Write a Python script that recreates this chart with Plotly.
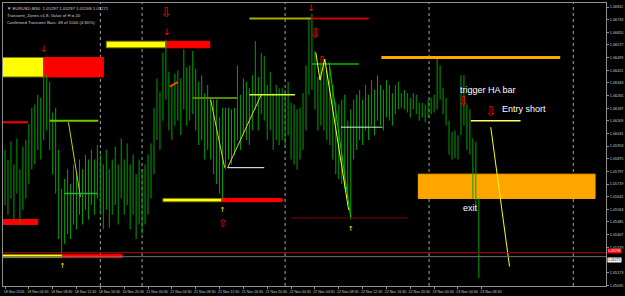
import plotly.graph_objects as go

# ---------------- data ----------------
time_labels = ["18 Nov 2016", "18 Nov 04:30", "18 Nov 08:30", "18 Nov 12:30", "18 Nov 16:30",
               "20 Nov 20:30", "21 Nov 00:30", "21 Nov 04:30", "21 Nov 08:30", "21 Nov 12:30",
               "21 Nov 16:30", "21 Nov 20:30", "22 Nov 00:30", "22 Nov 04:30", "22 Nov 08:30",
               "22 Nov 12:30", "22 Nov 16:30", "22 Nov 20:30", "23 Nov 00:30", "23 Nov 04:30",
               "23 Nov 08:30"]
label_bars = [0, 8, 16, 24, 32, 40, 48, 56, 64, 72, 80, 88, 96, 104, 112, 120, 128, 136, 144, 152, 160]

price_ticks = [1.06811, 1.06733, 1.06655, 1.06577, 1.06499, 1.06421, 1.06343, 1.06265, 1.06187,
               1.06109, 1.06031, 1.05953, 1.05875, 1.05797, 1.05719, 1.05641, 1.05563, 1.05485,
               1.05407, 1.05329, 1.05173, 1.05095]

highs = [1.0593, 1.0587, 1.0598, 1.0584, 1.0600, 1.0581, 1.0595, 1.0599, 1.0609, 1.0619,
         1.0621, 1.0627, 1.0625, 1.0639, 1.0639, 1.0635, 1.0616, 1.0619, 1.0593, 1.0569,
         1.0575, 1.0581, 1.0572, 1.0584, 1.0578, 1.0587, 1.0581, 1.0590, 1.0587, 1.0593,
         1.0587, 1.0596, 1.0590, 1.0584, 1.0593, 1.0581, 1.0587, 1.0595, 1.0584, 1.0600,
         1.0587, 1.0597, 1.0584, 1.0590, 1.0578, 1.0587, 1.0581, 1.0584, 1.0590, 1.0597,
         1.0619, 1.0637, 1.0629, 1.0653, 1.0661, 1.0641, 1.0633, 1.0640, 1.0642, 1.0637,
         1.0655, 1.0644, 1.0645, 1.0654, 1.0643, 1.0635, 1.0639, 1.0628, 1.0633, 1.0625,
         1.0624, 1.0624, 1.0613, 1.0619, 1.0619, 1.0619, 1.0618, 1.0619, 1.0645, 1.0627,
         1.0637, 1.0635, 1.0631, 1.0639, 1.0660, 1.0638, 1.0653, 1.0651, 1.0633, 1.0641,
         1.0628, 1.0633, 1.0631, 1.0631, 1.0630, 1.0635, 1.0622, 1.0621, 1.0618, 1.0619,
         1.0628, 1.0645, 1.0674, 1.0677, 1.0654, 1.0638, 1.0646, 1.0645, 1.0642, 1.0644,
         1.0633, 1.0622, 1.0621, 1.0624, 1.0627, 1.0611, 1.0618, 1.0624, 1.0627, 1.0630,
         1.0624, 1.0633, 1.0627, 1.0636, 1.0630, 1.0639, 1.0633, 1.0630, 1.0636, 1.0633,
         1.0628, 1.0633, 1.0635, 1.0628, 1.0630, 1.0628, 1.0625, 1.0628, 1.0627, 1.0622,
         1.0622, 1.0621, 1.0624, 1.0625, 1.0627, 1.0650, 1.0645, 1.0631, 1.0625, 1.0611,
         1.0604, 1.0605, 1.0602, 1.0639, 1.0639, 1.0621, 1.0618, 1.0600, 1.0598, 1.0563]

lows = [1.0559, 1.0553, 1.0563, 1.0550, 1.0566, 1.0547, 1.0556, 1.0563, 1.0572, 1.0581,
        1.0584, 1.0593, 1.0587, 1.0599, 1.0605, 1.0593, 1.0578, 1.0566, 1.0538, 1.0528,
        1.0535, 1.0541, 1.0538, 1.0547, 1.0544, 1.0553, 1.0547, 1.0556, 1.0550, 1.0559,
        1.0553, 1.0563, 1.0553, 1.0544, 1.0556, 1.0545, 1.0553, 1.0559, 1.0547, 1.0563,
        1.0553, 1.0559, 1.0544, 1.0553, 1.0538, 1.0547, 1.0541, 1.0547, 1.0553, 1.0563,
        1.0578, 1.0599, 1.0593, 1.0611, 1.0624, 1.0605, 1.0599, 1.0608, 1.0611, 1.0602,
        1.0618, 1.0608, 1.0611, 1.0615, 1.0605, 1.0596, 1.0599, 1.0587, 1.0593, 1.0587,
        1.0578, 1.0572, 1.0566, 1.0563, 1.0581, 1.0587, 1.0584, 1.0590, 1.0599, 1.0593,
        1.0602, 1.0599, 1.0596, 1.0605, 1.0618, 1.0605, 1.0615, 1.0611, 1.0599, 1.0605,
        1.0593, 1.0599, 1.0596, 1.0599, 1.0596, 1.0602, 1.0587, 1.0584, 1.0581, 1.0587,
        1.0593, 1.0605, 1.0627, 1.0630, 1.0618, 1.0605, 1.0608, 1.0605, 1.0599, 1.0596,
        1.0587, 1.0578, 1.0575, 1.0572, 1.0569, 1.0563, 1.0550, 1.0587, 1.0593, 1.0599,
        1.0596, 1.0605, 1.0599, 1.0608, 1.0602, 1.0611, 1.0608, 1.0605, 1.0613, 1.0611,
        1.0608, 1.0615, 1.0618, 1.0619, 1.0618, 1.0616, 1.0613, 1.0618, 1.0615, 1.0611,
        1.0613, 1.0610, 1.0613, 1.0615, 1.0616, 1.0618, 1.0624, 1.0615, 1.0608, 1.0590,
        1.0587, 1.0588, 1.0587, 1.0602, 1.0608, 1.0593, 1.0590, 1.0563, 1.0556, 1.0514]

# transient zones (bar index from/to, price low/high, colour)
band_x0 = [-1, 13, 34, 54, 53, 72.7, -1, 19.3, -1, 138.7]
band_x1 = [13, 33, 54, 68.7, 72.7, 93, 19.3, 39.3, 11, 198]
band_lo = [1.0638, 1.0638, 1.0656, 1.0656, 1.0561, 1.0561, 1.05265, 1.05265, 1.0547, 1.0563]
band_hi = [1.0650, 1.0650, 1.0660, 1.0660, 1.0563, 1.0563, 1.05285, 1.05285, 1.0550, 1.0578]
band_color = ["#ffff00", "#ff0000", "#ffff00", "#ff0000", "#ffff00", "#ff0000",
              "#ffff00", "#ff0000", "#ff0000", "#ffa500"]

# indicator line segments
seg_x0 = [-1, 15, 21.3, 20, 63, 69, 74.7, 74.7, 82, 82, 102.7, 103, 104.3, 105.7, 107.3, 108.7, 112.7, 96, 126.3, 156.3, 163, 55.3]
seg_x1 = [7.7, 31.3, 25.3, 31, 78, 73.7, 87, 86, 97.3, 102.7, 122, 118.7, 105.7, 107.3, 115.3, 116, 126.7, 135.3, 186.3, 173, 169.3, 60]
seg_y0 = [1.0610, 1.0611, 1.0610, 1.0566, 1.0625, 1.0624, 1.0582, 1.0582, 1.0627, 1.0674, 1.0674, 1.0646, 1.0653, 1.0636, 1.0649, 1.0647, 1.0607, 1.0551, 1.0650, 1.0611, 1.0607, 1.0632]
seg_y1 = [1.0610, 1.0611, 1.0564, 1.0566, 1.0625, 1.0582, 1.0582, 1.0627, 1.0627, 1.0674, 1.0674, 1.0646, 1.0636, 1.0649, 1.0556, 1.0551, 1.0607, 1.0551, 1.0650, 1.0611, 1.0521, 1.0637]
seg_color = ["#ff0000", "#66cc00", "#cccc00", "#33aa33", "#558800", "#dddd00", "#ffffff", "#dddd00",
             "#ccff33", "#aaaa00", "#cc0000", "#00bb00", "#ffff00", "#ffff00", "#ffff00", "#00cc00",
             "#ccffcc", "#880000", "#ffa500", "#ffff66", "#ffff00", "#ff4500"]
seg_width = [2, 2, 1, 1.5, 2, 1, 1, 1, 1.5, 2, 2, 1.5, 1, 1, 1, 1, 1, 1, 3, 1.5, 1, 2]

separators = [32, 46, 94, 142.3, 190.7]

ask_price = 1.05296
bid_price = 1.05271

small_down_x = [13, 54.3, 102.7]
small_down_y = [1.0655, 1.0665, 1.0680]
hollow_down_x = [54, 104, 106.3, 153.7, 163]
hollow_down_y = [1.0677, 1.0664, 1.0647, 1.0622, 1.0616]
hollow_up_x = [73]
hollow_up_y = [1.0547]
small_up_x = [19.3, 73, 116]
small_up_y = [1.0521, 1.0556, 1.0544]

notes_text = ["trigger HA bar", "Entry short", "exit"]
notes_x = [152, 166, 153]
notes_y = [1.0630, 1.0618, 1.0557]

header_lines = ["\u25bc EURUSD,M30  1.05297 1.05297 1.05268 1.05271",
                "Transient_Zones v1.8, Value of H = 20",
                "Confirmed Transient Bars: 48 of 1000 (4.80%)"]

# ---------------- figure ----------------
fig = go.Figure()

bx, by = [], []
for i, (h, l) in enumerate(zip(highs, lows)):
    bx += [i, i, None]
    by += [h, l, None]
fig.add_trace(go.Scatter(x=bx, y=by, mode="lines", line=dict(color="#00a000", width=1),
                         hoverinfo="skip", showlegend=False))

shapes = []
for x0, x1, lo, hi, c in zip(band_x0, band_x1, band_lo, band_hi, band_color):
    shapes.append(dict(type="rect", xref="x", yref="y", x0=x0, x1=x1, y0=lo, y1=hi,
                       fillcolor=c, line=dict(width=1, color="#808000" if c == "#ffff00" else c),
                       layer="below"))
for s in separators:
    shapes.append(dict(type="line", xref="x", yref="paper", x0=s, x1=s, y0=0, y1=1,
                       line=dict(color="#a0a0a0", width=1, dash="dot"), layer="below"))
for x0, x1, y0, y1, c, w in zip(seg_x0, seg_x1, seg_y0, seg_y1, seg_color, seg_width):
    shapes.append(dict(type="line", xref="x", yref="y", x0=x0, x1=x1, y0=y0, y1=y1,
                       line=dict(color=c, width=w, dash="dash" if c == "#ff4500" else "solid")))
shapes.append(dict(type="line", xref="paper", yref="y", x0=0, x1=1, y0=ask_price, y1=ask_price,
                   line=dict(color="#b00000", width=1)))
shapes.append(dict(type="line", xref="paper", yref="y", x0=0, x1=1, y0=bid_price, y1=bid_price,
                   line=dict(color="#707070", width=1)))

fig.add_trace(go.Scatter(x=small_down_x, y=small_down_y, mode="text", text=["\u2193"] * len(small_down_x),
                         textfont=dict(color="#ff0000", size=9, family="DejaVu Sans"),
                         hoverinfo="skip", showlegend=False))
fig.add_trace(go.Scatter(x=hollow_down_x, y=hollow_down_y, mode="text", text=["\u21e9"] * len(hollow_down_x),
                         textfont=dict(color="#ff0000", size=13, family="DejaVu Sans"),
                         hoverinfo="skip", showlegend=False))
fig.add_trace(go.Scatter(x=hollow_up_x, y=hollow_up_y, mode="text", text=["\u21e7"] * len(hollow_up_x),
                         textfont=dict(color="#ff0000", size=11, family="DejaVu Sans"),
                         hoverinfo="skip", showlegend=False))
fig.add_trace(go.Scatter(x=small_up_x, y=small_up_y, mode="text", text=["\u2191"] * len(small_up_x),
                         textfont=dict(color="#ffff00", size=7, family="DejaVu Sans"),
                         hoverinfo="skip", showlegend=False))

annotations = []
for t, x, y in zip(notes_text, notes_x, notes_y):
    annotations.append(dict(x=x, y=y, xref="x", yref="y", text=t, showarrow=False,
                            xanchor="left", yanchor="middle",
                            font=dict(color="#ffffff", size=9, family="Liberation Sans")))
for k, line in enumerate(header_lines):
    annotations.append(dict(x=0.004, y=1 - 0.004 - k * 0.024, xref="paper", yref="paper", text=line,
                            showarrow=False, xanchor="left", yanchor="top",
                            font=dict(color="#d0d0d0", size=4.3, family="Liberation Sans")))
annotations.append(dict(x=1, y=ask_price, xref="paper", yref="y", text=f"{ask_price:.5f}",
                        showarrow=False, xanchor="left", yanchor="bottom", bgcolor="#ff0000",
                        borderpad=0, xshift=1, yshift=-1,
                        font=dict(color="#ffffff", size=3.5, family="Liberation Sans")))
annotations.append(dict(x=1, y=bid_price, xref="paper", yref="y", text=f"{bid_price:.5f}",
                        showarrow=False, xanchor="left", yanchor="top", bgcolor="#ffffff",
                        borderpad=0, xshift=1, yshift=0,
                        font=dict(color="#000000", size=3.5, family="Liberation Sans")))

fig.update_layout(
    width=625, height=296,
    margin=dict(l=2, r=16, t=2, b=9),
    paper_bgcolor="#000000", plot_bgcolor="#000000",
    showlegend=False,
    shapes=shapes, annotations=annotations,
    xaxis=dict(range=[-0.67, 201.67], showgrid=False, zeroline=False,
               tickmode="array", tickvals=label_bars, ticktext=time_labels,
               ticks="outside", ticklen=2, tickcolor="#909090", ticklabelshift=9,
               tickfont=dict(color="#c8c8c8", size=3.6, family="Liberation Sans"),
               showline=True, linecolor="#909090", linewidth=1, mirror=True),
    yaxis=dict(range=[1.05090, 1.06836], side="right", showgrid=False, zeroline=False,
               tickmode="array", tickvals=price_ticks, ticktext=[f"{v:.5f}" for v in price_ticks],
               ticks="outside", ticklen=2, tickcolor="#909090",
               tickfont=dict(color="#c8c8c8", size=3.8, family="Liberation Sans"),
               showline=True, linecolor="#909090", linewidth=1, mirror=True),
)

fig.write_html("out.html")
